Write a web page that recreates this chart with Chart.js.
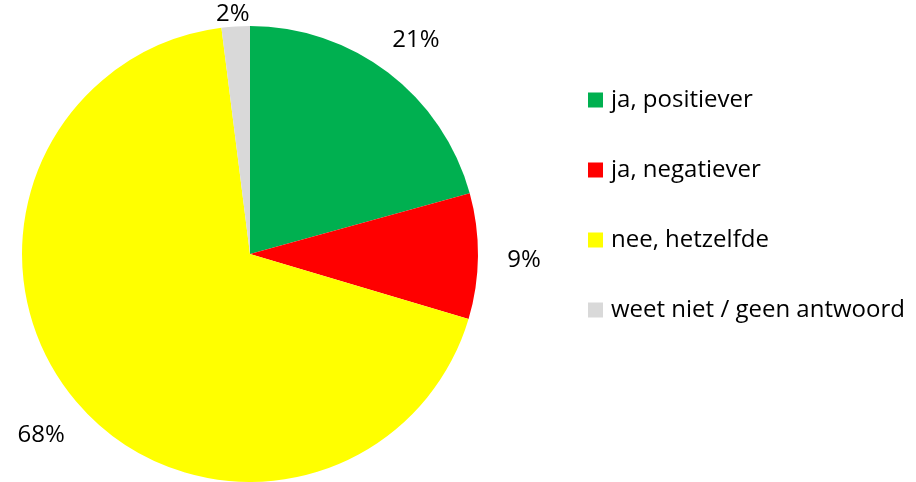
<!DOCTYPE html>
<html>
<head>
<meta charset="utf-8">
<script src="https://cdn.jsdelivr.net/npm/chart.js@4"></script>
<style>
    html, body { margin: 0; padding: 0; background: #fff; }
    #wrap { width: 916px; height: 482px; }
</style>
</head>
<body>
<div id="wrap"><canvas id="pieChart" width="916" height="482"></canvas></div>
<script>
const categories = ['ja, positiever', 'ja, negatiever', 'nee, hetzelfde', 'weet niet / geen antwoord'];
const shares = [20.7, 8.9, 68.4, 2.0];
const sliceColors = ['#00b050', '#ff0000', '#ffff00', '#d9d9d9'];

const FONT = '"Open Sans", "Liberation Sans", sans-serif';

// percentage labels just outside each slice
const outsideLabels = {
    id: 'outsideLabels',
    afterDatasetsDraw(chart) {
        const ctx = chart.ctx;
        const arcs = chart.getDatasetMeta(0).data;
        ctx.save();
        ctx.font = '24px ' + FONT;
        ctx.fillStyle = '#000';
        ctx.textAlign = 'center';
        ctx.textBaseline = 'middle';
        arcs.forEach((arc, i) => {
            const mid = (arc.startAngle + arc.endAngle) / 2;
            const dist = arc.outerRadius + 46;
            const x = arc.x + Math.cos(mid) * dist;
            let y = arc.y + Math.sin(mid) * dist + 4;
            y = Math.max(y, 14);
            ctx.fillText(Math.round(shares[i]) + '%', x, y);
        });
        ctx.restore();
    }
};

// legend drawn on the right
const sideLegend = {
    id: 'sideLegend',
    afterDraw(chart) {
        const ctx = chart.ctx;
        ctx.save();
        ctx.font = '24px ' + FONT;
        ctx.textBaseline = 'middle';
        ctx.textAlign = 'left';
        categories.forEach((label, i) => {
            const y = 100 + i * 70;
            ctx.fillStyle = sliceColors[i];
            ctx.fillRect(588, y - 7.5, 15, 15);
            ctx.fillStyle = '#000';
            ctx.fillText(label, 611, y);
        });
        ctx.restore();
    }
};

new Chart(document.getElementById('pieChart'), {
    type: 'pie',
    data: {
        labels: categories,
        datasets: [{
            data: shares,
            backgroundColor: sliceColors,
            borderWidth: 0
        }]
    },
    options: {
        responsive: false,
        animation: false,
        layout: { padding: { left: 22, top: 26, right: 438, bottom: 0 } },
        plugins: {
            legend: { display: false },
            tooltip: { enabled: false }
        }
    },
    plugins: [outsideLabels, sideLegend]
});
</script>
</body>
</html>
